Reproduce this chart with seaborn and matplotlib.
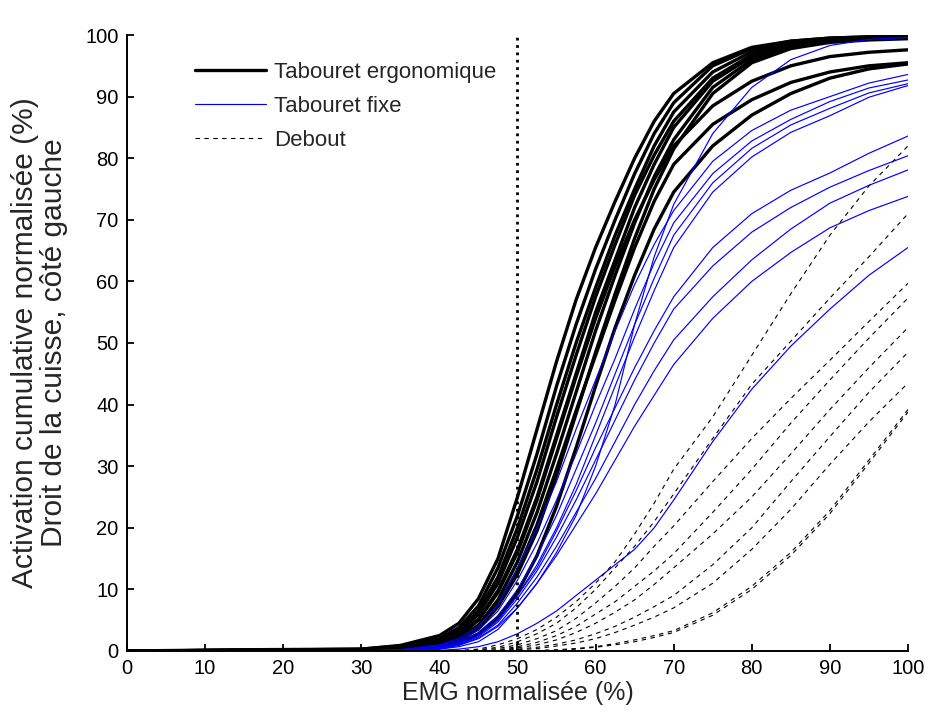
import numpy as np
import pandas as pd
import matplotlib
matplotlib.use("Agg")
import matplotlib.pyplot as plt
from matplotlib.lines import Line2D
import seaborn as sns

# ---------------- data ----------------
x_emg = [0, 15, 30, 35, 40, 42.5, 45, 47.5, 50, 52.5, 55, 57.5, 60, 62.5, 65, 67.5,
         70, 75, 80, 85, 90, 95, 100]

# Tabouret ergonomique (black, thick)
ergo_1 = [0, 0.2, 0.3, 0.9, 2.5, 4.5, 8.5, 15, 25, 36, 47, 57, 65.5, 73, 80, 86, 90.5, 95.5, 98, 99, 99.5, 99.7, 99.8]
ergo_2 = [0, 0.1, 0.3, 0.8, 2, 3.8, 7.3, 13.5, 22, 32, 43, 53, 62, 70, 77.5, 84, 89, 95, 97.8, 99, 99.5, 99.7, 99.8]
ergo_3 = [0, 0.1, 0.2, 0.7, 1.8, 3.3, 6.5, 12, 20, 29.5, 40, 50, 59, 67.5, 75, 82, 87.5, 94, 97.3, 98.8, 99.4, 99.6, 99.7]
ergo_4 = [0, 0.1, 0.2, 0.6, 1.5, 3, 6, 11, 18.5, 27.5, 38, 48, 57.5, 66, 74, 80.5, 86, 93, 96.8, 98.5, 99.3, 99.6, 99.7]
ergo_5 = [0, 0.1, 0.2, 0.5, 1.3, 2.6, 5.2, 9.8, 16.5, 25, 35, 45, 55, 63.5, 72, 79, 85, 92.5, 96.5, 98.3, 99.2, 99.5, 99.6]
ergo_6 = [0, 0.1, 0.2, 0.5, 1.2, 2.4, 5, 9.5, 16, 24.5, 34.5, 44.5, 54, 62.5, 70, 76.5, 82, 88.5, 92.5, 95, 96.5, 97.2, 97.6]
ergo_7 = [0, 0, 0.1, 0.4, 1, 2, 4.2, 8.3, 14.5, 22.5, 32, 42, 52, 61, 69.5, 77, 83, 91.5, 96, 98, 99, 99.4, 99.5]
ergo_8 = [0, 0, 0.1, 0.3, 0.8, 1.7, 3.6, 7.2, 12.5, 19.5, 28.5, 38.5, 48.5, 58, 67, 75, 81.5, 90.5, 95.5, 97.8, 98.8, 99.2, 99.4]
ergo_9 = [0, 0, 0.1, 0.4, 0.9, 1.8, 3.8, 7.5, 13, 20.5, 29.5, 39, 48, 57, 65.5, 73, 79, 85.5, 89.5, 92.3, 94, 95, 95.5]
ergo_10 = [0, 0, 0.1, 0.3, 0.6, 1.3, 2.8, 5.5, 9.5, 15.5, 23.5, 33, 43, 52.5, 61, 68.5, 74.5, 82, 87, 90.5, 93, 94.5, 95.3]

# Tabouret fixe (blue, thin)
fixe_1 = [0, 0, 0, 0.1, 0.3, 0.7, 1.5, 3.5, 7, 11, 16, 22, 30, 40, 53, 64, 72.5, 84, 91.5, 96, 98.3, 99.3, 99.6]
fixe_2 = [0, 0, 0, 0.2, 1, 2, 4, 7.5, 13.5, 20, 27.5, 36, 44, 52, 59.5, 66, 71.5, 79.5, 84.5, 87.8, 90, 92.2, 93.6]
fixe_3 = [0, 0, 0, 0.2, 0.8, 1.7, 3.4, 6.5, 11.5, 17.5, 24.5, 32, 40, 47.5, 55.5, 63, 69.5, 77.5, 82.8, 86.3, 89.2, 91.4, 92.7]
fixe_4 = [0, 0, 0, 0.1, 0.6, 1.4, 2.9, 5.6, 10, 15.5, 22, 29.5, 37, 45, 53, 60.5, 67.5, 76, 81.6, 85.4, 88.1, 90.6, 92.1]
fixe_5 = [0, 0, 0, 0.1, 0.5, 1.2, 2.5, 5, 9, 14, 20, 27, 35, 43, 51, 58.5, 65.5, 74.5, 80.2, 84.2, 86.9, 89.9, 91.8]
fixe_6 = [0, 0, 0, 0.1, 0.5, 1.2, 2.5, 5, 9, 13.5, 19.5, 26, 33, 39.5, 46, 52, 57.5, 65.5, 71, 74.8, 77.6, 80.8, 83.6]
fixe_7 = [0, 0, 0, 0.1, 0.4, 1.1, 2.3, 4.7, 8.5, 13, 18.5, 24.5, 31, 37.5, 44, 50, 55.5, 62.5, 68, 72, 75.3, 78, 80.4]
fixe_8 = [0, 0, 0, 0.1, 0.4, 1, 2.1, 4.2, 7.8, 12, 17, 22.5, 28, 34, 40, 45.5, 50.5, 57.5, 63.5, 68.5, 72.7, 75.6, 78.1]
fixe_9 = [0, 0, 0, 0.1, 0.3, 0.9, 2, 4, 7, 11, 15.5, 20.5, 25.5, 31, 36.5, 41.5, 46.5, 54, 60, 64.7, 68.7, 71.5, 73.8]
fixe_10 = [0, 0, 0, 0, 0.1, 0.3, 0.7, 1.5, 2.8, 4.5, 6.5, 9, 11.5, 14, 16.5, 20, 24.5, 34, 42.5, 49.5, 55.5, 61, 65.5]

# Debout (black, dashed)
debout_1 = [0, 0, 0, 0, 0, 0.1, 0.3, 1, 2, 3.5, 5.5, 8, 11, 14.5, 19, 24, 29.5, 38, 48, 58, 67.5, 75.5, 82]
debout_2 = [0, 0, 0, 0, 0, 0, 0.2, 0.6, 1.5, 2.8, 4.5, 7, 10, 13.5, 17, 21, 25.5, 34.5, 43.3, 50.3, 57.3, 64, 71]
debout_3 = [0, 0, 0, 0, 0, 0, 0.1, 0.4, 1, 2, 3.3, 5.3, 7.8, 10.5, 13.5, 17, 20.3, 27.5, 34.5, 41, 47.2, 53.5, 59.7]
debout_4 = [0, 0, 0, 0, 0, 0, 0, 0.2, 0.7, 1.4, 2.5, 4, 6, 8, 10.5, 13, 15.8, 22.5, 29.5, 37, 44, 50.8, 57.3]
debout_5 = [0, 0, 0, 0, 0, 0, 0, 0.1, 0.5, 1, 1.8, 3, 4.5, 6.3, 8.3, 10.8, 13.5, 19, 25, 32, 39.2, 46, 52.5]
debout_6 = [0, 0, 0, 0, 0, 0, 0, 0, 0.3, 0.6, 1.1, 1.8, 2.8, 4, 5.5, 7.2, 9, 14, 20, 27.5, 34.8, 42, 48.5]
debout_7 = [0, 0, 0, 0, 0, 0, 0, 0, 0.2, 0.4, 0.8, 1.3, 2, 3, 4.2, 5.5, 7, 11, 16.5, 23, 30.3, 37.2, 43.5]
debout_8 = [0, 0, 0, 0, 0, 0, 0, 0, 0, 0.1, 0.2, 0.4, 0.7, 1.2, 1.8, 2.5, 3.3, 6.2, 10.5, 16, 22.8, 31, 39.2]
debout_9 = [0, 0, 0, 0, 0, 0, 0, 0, 0, 0, 0.1, 0.3, 0.6, 1, 1.5, 2.2, 3, 5.8, 10, 15.5, 22.3, 30.5, 38.8]

legend_labels = ["Tabouret ergonomique", "Tabouret fixe", "Debout"]
x_ticks = [0, 10, 20, 30, 40, 50, 60, 70, 80, 90, 100]
y_ticks = [0, 10, 20, 30, 40, 50, 60, 70, 80, 90, 100]
threshold = 50

groups = {
    "ergo": [ergo_1, ergo_2, ergo_3, ergo_4, ergo_5, ergo_6, ergo_7, ergo_8, ergo_9, ergo_10],
    "fixe": [fixe_1, fixe_2, fixe_3, fixe_4, fixe_5, fixe_6, fixe_7, fixe_8, fixe_9, fixe_10],
    "debout": [debout_1, debout_2, debout_3, debout_4, debout_5, debout_6, debout_7, debout_8, debout_9],
}

def long_df(curves):
    rows = []
    for i, c in enumerate(curves):
        for xv, yv in zip(x_emg, c):
            rows.append((i, xv, yv))
    return pd.DataFrame(rows, columns=["curve", "x", "y"])

# ---------------- style ----------------
sns.set_style("ticks")
plt.rcParams["font.family"] = ["Liberation Sans", "DejaVu Sans"]

fig = plt.figure(figsize=(9.31, 7.25), dpi=100)
ax = fig.add_axes([0.1364, 0.1021, 0.8389, 0.8496])

styles = {
    "ergo": dict(color="black", linewidth=2.4, linestyle="-"),
    "fixe": dict(color="#0000ff", linewidth=0.85, linestyle="-"),
    "debout": dict(color="black", linewidth=0.8, linestyle=(0, (4, 4))),
}
for key in ["ergo", "fixe", "debout"]:
    df = long_df(groups[key])
    sns.lineplot(data=df, x="x", y="y", units="curve", estimator=None, sort=False,
                 legend=False, ax=ax, **styles[key])

ax.axvline(threshold, color="black", linestyle=":", linewidth=2.0)

ax.set_xlim(0, 100)
ax.set_ylim(0, 100)
ax.set_xticks(x_ticks)
ax.set_yticks(y_ticks)
ax.tick_params(direction="in", length=5, width=1.3, labelsize=14.5, pad=6, colors="black")
for s in ["top", "right"]:
    ax.spines[s].set_visible(False)
for s in ["left", "bottom"]:
    ax.spines[s].set_linewidth(1.4)
    ax.spines[s].set_color("black")

ax.set_xlabel("EMG normalisée (%)", fontsize=18, labelpad=2)
ax.set_ylabel("Activation cumulative normalisée (%)\nDroit de la cuisse, côté gauche",
              fontsize=21.5, labelpad=12.5, linespacing=1.04)

handles = [Line2D([], [], **styles["ergo"]),
           Line2D([], [], **styles["fixe"]),
           Line2D([], [], **styles["debout"])]
ax.legend(handles, legend_labels, loc="upper left",
          bbox_to_anchor=(186 / 931, 1 - 53 / 725), bbox_transform=fig.transFigure,
          frameon=False, fontsize=16, handlelength=3.2, handletextpad=0.35,
          labelspacing=0.58, borderpad=0.4, borderaxespad=0)

fig.savefig("out.png", dpi=100)
